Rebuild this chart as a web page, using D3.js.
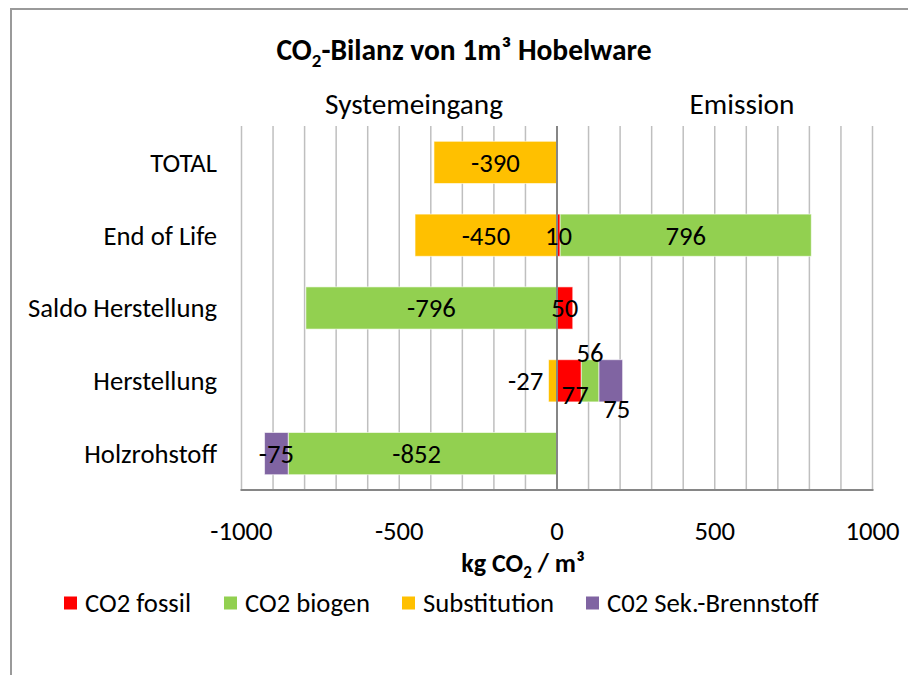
<!DOCTYPE html>
<html>
<head>
<meta charset="utf-8">
<script src="https://cdn.jsdelivr.net/npm/d3@7"></script>
<style>
  body { margin: 0; background: #fff; }
  svg text { font-family: Carlito, Calibri, Lato, sans-serif; fill: #000; }
</style>
</head>
<body>
<svg class="visual" width="908" height="675"></svg>
<script>
// Categories (top to bottom) and series values
const categories = ["TOTAL", "End of Life", "Saldo Herstellung", "Herstellung", "Holzrohstoff"];
const seriesNames = ["CO2 fossil", "CO2 biogen", "Substitution", "C02 Sek.-Brennstoff"];
const fossil       = [0, 10, 50, 77, 0];
const biogen       = [0, 796, -796, 56, -852];
const substitution = [-390, -450, 0, -27, 0];
const sekBrennstoff = [0, 0, 0, 75, -75];
const xTicks = [-1000, -500, 0, 500, 1000];

const colors = ["#ff0000", "#92d050", "#ffc000", "#8064a2"];

// manual nudges of the crowded labels (as done in the original)
const labelNudge = {
  "Herstellung|Substitution": [-27, 0],
  "Herstellung|CO2 fossil": [6, 14],
  "Herstellung|CO2 biogen": [0, -28],
  "Herstellung|C02 Sek.-Brennstoff": [6, 28],
  "Holzrohstoff|CO2 biogen": [-6, 0]
};

const fs = 26.7;

const svg = d3.select(".visual");
const margin = {top: 126, left: 241.5, right: 872.5, bottom: 490};

// frame of the chart area
svg.append("path")
  .attr("d", "M11,675 L11,9 L908,9")
  .attr("fill", "none")
  .attr("stroke", "#9a9a9a")
  .attr("stroke-width", 2);

const rows = categories.map((c, i) => ({
  cat: c,
  "CO2 fossil": fossil[i],
  "CO2 biogen": biogen[i],
  "Substitution": substitution[i],
  "C02 Sek.-Brennstoff": sekBrennstoff[i]
}));

const stack = d3.stack().keys(seriesNames).offset(d3.stackOffsetDiverging);
const series = stack(rows);

const x = d3.scaleLinear().domain([-1000, 1000]).range([margin.left, margin.right]);
const y = d3.scaleBand().domain(categories).range([margin.top, margin.bottom])
  .paddingInner(0.42).paddingOuter(0.21);

// gridlines every 100
svg.append("g")
  .selectAll("line")
  .data(d3.range(-1000, 1001, 100).filter(v => v !== 0))
  .join("line")
  .attr("x1", d => x(d)).attr("x2", d => x(d))
  .attr("y1", margin.top).attr("y2", margin.bottom)
  .attr("stroke", "#bfbfbf")
  .attr("stroke-width", 1.5);

// bars
svg.append("g")
  .selectAll("g")
  .data(series)
  .join("g")
  .attr("fill", (d, i) => colors[i])
  .selectAll("rect")
  .data(d => d.filter(p => p[1] - p[0] !== 0))
  .join("rect")
  .attr("x", d => x(Math.min(d[0], d[1])))
  .attr("width", d => Math.abs(x(d[1]) - x(d[0])))
  .attr("y", d => y(d.data.cat))
  .attr("height", y.bandwidth())
  .attr("stroke", "#ffffff")
  .attr("stroke-opacity", 0.6)
  .attr("stroke-width", 1);

// zero (category) axis and bottom axis
svg.append("line")
  .attr("x1", x(0)).attr("x2", x(0))
  .attr("y1", margin.top).attr("y2", margin.bottom)
  .attr("stroke", "#868686").attr("stroke-width", 2);

svg.append("line")
  .attr("x1", margin.left - 1).attr("x2", margin.right + 1)
  .attr("y1", margin.bottom).attr("y2", margin.bottom)
  .attr("stroke", "#868686").attr("stroke-width", 2);

// data labels
const labels = [];
series.forEach(s => {
  s.forEach(p => {
    const v = p.data[s.key];
    if (v === 0) return;
    const nudge = labelNudge[p.data.cat + "|" + s.key] || [0, 0];
    labels.push({
      v: v,
      x: x((p[0] + p[1]) / 2) + nudge[0],
      y: y(p.data.cat) + y.bandwidth() / 2 + nudge[1]
    });
  });
});

svg.append("g")
  .selectAll("text")
  .data(labels)
  .join("text")
  .attr("x", d => d.x)
  .attr("y", d => d.y)
  .attr("dy", "0.35em")
  .attr("text-anchor", "middle")
  .style("font-size", fs + "px")
  .text(d => d.v);

// category labels
svg.append("g")
  .selectAll("text")
  .data(categories)
  .join("text")
  .attr("x", 217)
  .attr("y", d => y(d) + y.bandwidth() / 2)
  .attr("dy", "0.35em")
  .attr("text-anchor", "end")
  .style("font-size", fs + "px")
  .text(d => d);

// x tick labels
svg.append("g")
  .selectAll("text")
  .data(xTicks)
  .join("text")
  .attr("x", d => x(d))
  .attr("y", 531)
  .attr("dy", "0.35em")
  .attr("text-anchor", "middle")
  .style("font-size", fs + "px")
  .text(d => d);

// axis title
const xt = svg.append("text")
  .attr("x", 523).attr("y", 572)
  .attr("text-anchor", "middle")
  .style("font-size", "26px")
  .style("font-weight", "bold");
xt.append("tspan").text("kg CO");
xt.append("tspan").attr("dy", 6).style("font-size", "17px").text("2");
xt.append("tspan").attr("dy", -6).text(" / m³");

// title
const title = svg.append("text")
  .attr("x", 464).attr("y", 60)
  .attr("text-anchor", "middle")
  .style("font-size", "29.5px")
  .style("font-weight", "bold");
title.append("tspan").text("CO");
title.append("tspan").attr("dy", 7).style("font-size", "19px").text("2");
title.append("tspan").attr("dy", -7).text("-Bilanz von 1m³ Hobelware");

// side captions
svg.append("text").attr("x", 414).attr("y", 104).attr("dy", "0.35em")
  .attr("text-anchor", "middle").style("font-size", "29.3px").text("Systemeingang");
svg.append("text").attr("x", 742).attr("y", 104).attr("dy", "0.35em")
  .attr("text-anchor", "middle").style("font-size", "29.3px").text("Emission");

// legend
const legendX = [64, 224, 402, 586];
const legend = svg.append("g")
  .selectAll("g")
  .data(seriesNames)
  .join("g")
  .attr("transform", (d, i) => `translate(${legendX[i]},603)`);
legend.append("rect")
  .attr("x", 0).attr("y", -6.5).attr("width", 13).attr("height", 13)
  .attr("fill", (d, i) => colors[i]);
legend.append("text")
  .attr("x", 21).attr("y", 0).attr("dy", "0.35em")
  .style("font-size", fs + "px")
  .text(d => d);
</script>
</body>
</html>
